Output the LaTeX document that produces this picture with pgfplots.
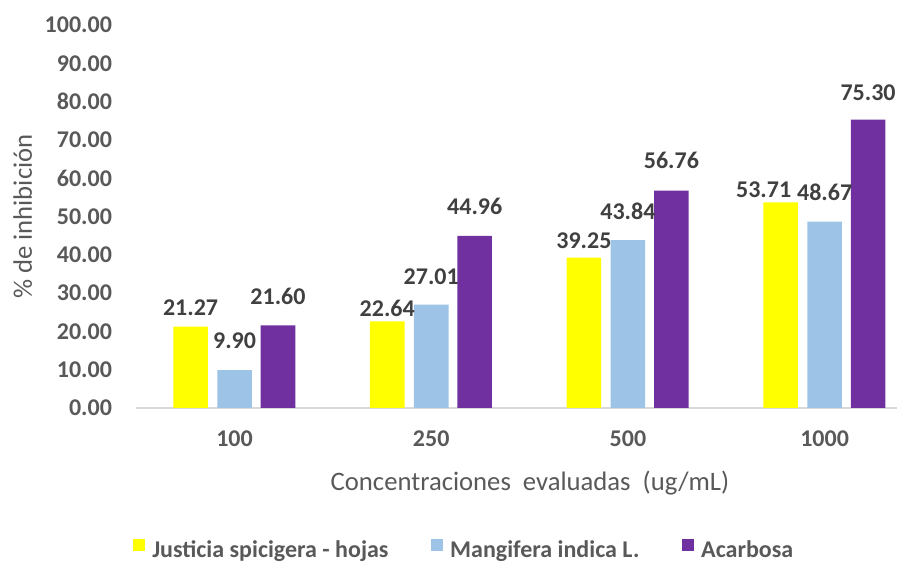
\documentclass[border=0pt]{standalone}
\usepackage{fontspec}
\setmainfont{Carlito}
\usepackage{pgfplots}
\pgfplotsset{compat=1.18}
\usepackage{pgfplotstable}
\definecolor{cyel}{HTML}{FFFF00}
\definecolor{cblue}{HTML}{9DC3E6}
\definecolor{cpur}{HTML}{7030A0}
\definecolor{tgray}{HTML}{595959}
\definecolor{lgray}{HTML}{404040}
\definecolor{agray}{HTML}{D9D9D9}

\pgfplotstableread{
x y dy dx
0 21.27 19 0
1 22.64 13 0
2 39.25 17 0
3 53.71 13 -17
}\tabJ
\pgfplotstableread{
x y dy dx
0 9.90 29 0
1 27.01 28 0
2 43.84 29 0
3 48.67 29 0
}\tabM
\pgfplotstableread{
x y dy dx
0 21.60 29 0
1 44.96 29 0
2 56.76 30 0
3 75.30 27 0
}\tabA

\begin{document}
\begin{tikzpicture}
\begin{axis}[
  at={(102.15pt,116.25pt)}, anchor=south west,
  scale only axis, width=570.6pt, height=287.25pt,
  ybar, bar width=25.9pt,
  xmin=-0.5, xmax=3.368, ymin=0, ymax=100,
  xtick={0,1,2,3}, xticklabels={100,250,500,1000},
  ytick={0,10,...,100},
  axis x line*=bottom, axis y line*=left,
  y axis line style={draw=none},
  x axis line style={draw=agray, line width=1.5pt},
  major tick length=0pt,
  tick style={draw=none},
  /pgf/number format/assume math mode=true,
  yticklabel={\pgfmathprintnumber[fixed,fixed zerofill,precision=2]{\tick}},
  ticklabel style={font=\fontsize{18pt}{20pt}\selectfont\bfseries, text=tgray, inner sep=0pt},
  xticklabel shift=16.5pt,
  yticklabel shift=18pt,
  xlabel={Concentraciones\ \ evaluadas\ \ (ug/mL)},
  xlabel style={at={(axis description cs:0.5176,-0.2167)}, anchor=base, font=\fontsize{20pt}{22pt}\selectfont, text=tgray, inner sep=0pt},
  ylabel={\% de inhibición},
  ylabel style={at={(axis description cs:-0.137,0.5)}, anchor=base, font=\fontsize{20pt}{22pt}\selectfont, text=tgray, inner sep=0pt},
  point meta=y,
  nodes near coords={\pgfmathprintnumber[fixed,fixed zerofill,precision=2,assume math mode=true]{\pgfplotspointmeta}},
  visualization depends on={\thisrow{dy} \as \dy},
  visualization depends on={\thisrow{dx} \as \dx},
  nodes near coords style={anchor=center, inner sep=0pt, yshift=\dy*0.75pt, xshift=\dx*0.75pt, font=\fontsize{18pt}{20pt}\selectfont\bfseries, text=lgray},
  legend image code/.code={\fill[#1] (0pt,-0.75pt) rectangle (9pt,8.25pt);},
  legend style={at={(axis description cs:-0.0042,-0.3695)}, anchor=west, legend columns=3, draw=none, fill=none, inner sep=0pt,
    font=\fontsize{18pt}{20pt}\selectfont\bfseries, text=tgray, nodes={inner sep=0pt},
    /tikz/every odd column/.append style={column sep=5.25pt},
    /tikz/every even column/.append style={column sep=32pt}},
  legend cell align=left,
]
\addplot[fill=cyel, draw=none, bar shift=-33pt] table[x=x,y=y] {\tabJ};
\addplot[fill=cblue, draw=none, bar shift=0pt] table[x=x,y=y] {\tabM};
\addplot[fill=cpur, draw=none, bar shift=32.6pt] table[x=x,y=y] {\tabA};
\legend{Justicia spicigera - hojas, Mangifera indica L., Acarbosa}
\end{axis}
\pgfresetboundingbox
\useasboundingbox (0pt,0pt) rectangle (672.75pt,422.25pt);
\end{tikzpicture}
\end{document}
